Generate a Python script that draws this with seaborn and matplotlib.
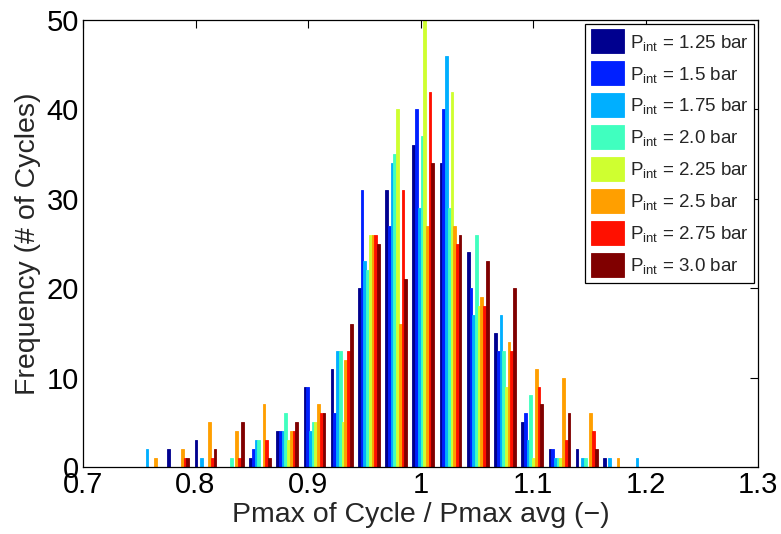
import numpy as np
import pandas as pd
import matplotlib
matplotlib.use("Agg")
import matplotlib.pyplot as plt
import seaborn as sns

# Histogram bin centres (Pmax of cycle / Pmax avg)
bin_centers = [0.7605, 0.7847, 0.8089, 0.8331, 0.8573, 0.8815, 0.9057, 0.9299,
               0.9541, 0.9783, 1.0025, 1.0267, 1.0509, 1.0751, 1.0993, 1.1235,
               1.1477, 1.1719, 1.1961, 1.2203, 1.2445, 1.2687, 1.2929]

series_labels = [r"P$_{int}$ = 1.25 bar", r"P$_{int}$ = 1.5 bar", r"P$_{int}$ = 1.75 bar",
                 r"P$_{int}$ = 2.0 bar", r"P$_{int}$ = 2.25 bar", r"P$_{int}$ = 2.5 bar",
                 r"P$_{int}$ = 2.75 bar", r"P$_{int}$ = 3.0 bar"]

counts_125 = [0, 2, 3, 0, 1, 4, 9, 11, 20, 31, 36, 34, 24, 15, 5, 2, 2, 1, 0, 0, 0, 0, 0]
counts_150 = [0, 0, 0, 0, 2, 4, 9, 6, 31, 27, 40, 40, 20, 13, 6, 2, 0, 0, 0, 0, 0, 0, 0]
counts_175 = [2, 0, 1, 0, 3, 4, 4, 13, 23, 34, 29, 46, 17, 17, 3, 1, 1, 1, 1, 0, 0, 0, 0]
counts_200 = [0, 0, 0, 1, 3, 6, 5, 13, 22, 35, 37, 29, 26, 13, 8, 1, 1, 0, 0, 0, 0, 0, 0]
counts_225 = [0, 0, 0, 0, 0, 3, 5, 5, 26, 40, 50, 42, 18, 9, 1, 1, 0, 0, 0, 0, 0, 0, 0]
counts_250 = [1, 2, 5, 4, 7, 4, 7, 12, 26, 16, 27, 27, 19, 14, 11, 10, 6, 1, 0, 0, 0, 0, 0]
counts_275 = [0, 1, 1, 1, 3, 4, 6, 13, 26, 31, 42, 25, 18, 13, 9, 3, 4, 0, 0, 0, 0, 0, 0]
counts_300 = [0, 1, 2, 5, 1, 5, 6, 16, 25, 21, 34, 26, 23, 20, 7, 6, 2, 0, 0, 0, 0, 0, 0]

all_counts = [counts_125, counts_150, counts_175, counts_200,
              counts_225, counts_250, counts_275, counts_300]

# MATLAB jet(64) colours picked for 8 grouped series
palette = [(0.0, 0.0, 0.5625), (0.0, 0.125, 1.0), (0.0, 0.6875, 1.0),
           (0.25, 1.0, 0.75), (0.8125, 1.0, 0.1875), (1.0, 0.625, 0.0),
           (1.0, 0.0625, 0.0), (0.5, 0.0, 0.0)]

x_ticks = [0.7, 0.8, 0.9, 1.0, 1.1, 1.2, 1.3]
x_tick_labels = ["0.7", "0.8", "0.9", "1", "1.1", "1.2", "1.3"]
y_ticks = [0, 10, 20, 30, 40, 50]

sns.set_theme(style="white")
plt.rcParams["font.family"] = ["Liberation Sans", "DejaVu Sans"]
plt.rcParams["mathtext.default"] = "regular"

rows = []
for lab, vals in zip(series_labels, all_counts):
    for c, v in zip(bin_centers, vals):
        rows.append({"center": c, "count": v, "series": lab})
df = pd.DataFrame(rows)

fig = plt.figure(figsize=(7.81, 5.34), dpi=100)
ax = fig.add_axes([83 / 781, 1 - 467 / 534, (758 - 83) / 781, (467 - 20) / 534])

sns.barplot(data=df, x="center", y="count", hue="series", hue_order=series_labels,
            palette=palette, native_scale=True, width=0.8, errorbar=None,
            saturation=1, linewidth=0, ax=ax)

for p in ax.patches:
    p.set_edgecolor(p.get_facecolor())
    p.set_linewidth(0.6)

ax.set_xlim(0.7, 1.3)
ax.set_ylim(0, 50)
ax.set_xticks(x_ticks)
ax.set_xticklabels(x_tick_labels)
ax.set_yticks(y_ticks)
ax.tick_params(direction="in", top=True, right=True, length=6, width=0.8,
               labelsize=21, colors="black", pad=3)
for s in ax.spines.values():
    s.set_color("black")
    s.set_linewidth(0.9)

ax.set_xlabel("Pmax of Cycle / Pmax avg (\u2212)", fontsize=20.5, labelpad=2)
ax.set_ylabel("Frequency (# of Cycles)", fontsize=20.5, labelpad=4)

handles, labels = ax.get_legend_handles_labels()
leg = ax.legend(handles, labels, loc="upper right", frameon=True, fancybox=False,
                edgecolor="black", framealpha=1, fontsize=13.5, handlelength=1.76,
                handleheight=1.6, labelspacing=0.42, borderaxespad=0.2,
                handletextpad=0.3, borderpad=0.3)
leg.get_frame().set_linewidth(0.9)

fig.savefig("out.png", dpi=100)
